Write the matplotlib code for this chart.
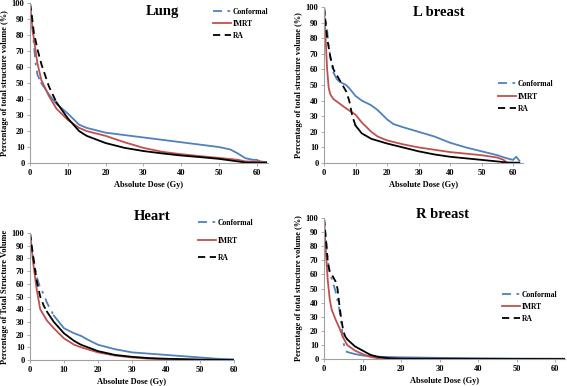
import matplotlib.pyplot as plt
from matplotlib.lines import Line2D

# ---- data (dose in Gy, volume in %) ----
lung_conf_x = [0, 0.5, 1, 1.5, 2, 3, 5, 7, 10, 13, 15, 20, 25, 30, 35, 40, 45, 50, 53, 55, 57, 59, 60, 61, 62.5]
lung_conf_y = [100, 88, 75, 62, 55, 50, 43, 37, 31, 24, 22, 19, 17.5, 16, 14.5, 13, 11.5, 10, 8.5, 6, 3, 2, 2, 1, 0.5]
lung_imrt_x = [0, 0.5, 1, 2, 3, 5, 7, 10, 13, 15, 20, 25, 30, 35, 40, 45, 50, 55, 57, 60, 62.5]
lung_imrt_y = [100, 88, 78, 62, 52, 42, 34, 27, 22, 20, 17, 13, 9.5, 7, 5.5, 4.3, 3.2, 2, 1, 0.8, 0.5]
lung_ra_x = [0, 0.5, 1, 2, 3, 5, 7, 10, 13, 15, 20, 25, 30, 35, 40, 45, 50, 55, 57, 60, 62.5]
lung_ra_y = [100, 92, 82, 71, 62, 48, 38, 28, 20, 17, 12.5, 9.5, 7.5, 6, 4.7, 3.7, 2.6, 1, 0.3, 0.2, 0.2]

lbr_conf_x = [0, 0.5, 1, 1.5, 2, 3, 4, 5, 7, 8, 10, 12, 15, 17, 20, 22, 25, 30, 35, 40, 45, 50, 55, 58, 60, 61, 62]
lbr_conf_y = [100, 92, 85, 75, 68, 58, 54, 52, 50, 48, 43, 40, 37, 34, 28, 25, 23, 20, 17, 13, 10, 7.5, 5, 3, 2, 4, 1.5]
lbr_imrt_x = [0, 0.5, 1, 1.5, 2, 3, 5, 7, 10, 12, 15, 17, 20, 25, 30, 35, 40, 45, 50, 55, 57, 58]
lbr_imrt_y = [100, 80, 60, 48, 44, 41, 38, 35, 31, 26, 20, 17, 14.5, 12, 10, 8.5, 7, 6, 5, 3.5, 2, 0.3]
lbr_ra_x = [0, 1, 2, 3, 5, 7, 8, 9, 10, 12, 15, 20, 25, 30, 35, 40, 45, 50, 55, 58, 62]
lbr_ra_y = [100, 80, 68, 60, 53, 46, 40, 30, 24, 19, 15.5, 12.5, 10, 7.5, 5.5, 4, 3, 2, 1, 0.3, 0.2]

heart_conf_x = [0, 1, 2, 3, 4, 5, 7, 10, 13, 15, 17, 20, 25, 30, 35, 40, 45, 50, 55, 60]
heart_conf_y = [100, 80, 65, 57, 52, 45, 35, 25, 21, 19, 16, 12, 8.5, 6, 5, 4, 3, 2, 1, 0.5]
heart_imrt_x = [0, 1, 2, 3, 5, 7, 10, 13, 15, 20, 25, 30, 35, 40, 50, 60]
heart_imrt_y = [100, 75, 55, 40, 31, 25, 17, 12, 10, 6, 3.5, 2, 1, 0.5, 0.2, 0]
heart_ra_x = [0, 1, 2, 3, 4, 5, 7, 10, 13, 15, 20, 25, 30, 35, 40, 50, 60]
heart_ra_y = [100, 80, 62, 50, 43, 38, 30, 21, 15, 12, 7, 4, 2.5, 1.5, 1, 0.3, 0]

rbr_conf_x = [0, 0.5, 1, 1.5, 2, 3, 4, 4.5, 5, 5.5, 6, 8, 10, 12, 15, 20, 30, 40, 50, 62.5]
rbr_conf_y = [100, 85, 70, 60, 57, 48, 35, 25, 12, 7, 5, 3.5, 2.5, 2, 1.5, 1.2, 0.8, 0.5, 0.3, 0.2]
rbr_imrt_x = [0, 0.5, 1, 1.5, 2, 3, 4, 5, 6, 8, 10, 12, 14, 20, 62.5]
rbr_imrt_y = [100, 75, 55, 42, 35, 28, 22, 15, 10, 6, 3.5, 1.5, 0.5, 0.2, 0]
rbr_ra_x = [0, 0.5, 1, 1.5, 2, 3, 3.5, 4, 4.5, 5, 5.5, 6, 8, 10, 12, 14, 17, 20, 62.5]
rbr_ra_y = [100, 85, 68, 62, 60, 55, 50, 38, 28, 20, 16, 14, 9, 6, 3, 1.5, 0.5, 0.2, 0]

labels = ['Conformal', 'IMRT', 'RA']

BLUE = '#4f81bd'
RED = '#c0504d'
BLACK = '#000000'
FONT = 'Liberation Serif'
LW = 1.3
CONF_DASH = (0, (5, 3, 1.5, 3))
RA_DASH = (0, (4, 2.5))

fig = plt.figure(figsize=(5.67, 3.86), dpi=100)
W, H = 567.0, 386.0


def px_axes(x0, x1, ytop, ybot):
    return fig.add_axes([x0 / W, 1 - ybot / H, (x1 - x0) / W, (ybot - ytop) / H])


def split_plot(ax, x, y, color, dash_style, dash_until):
    # early (sparse) part drawn dashed, the dense rest looks solid
    xd = [a for a in x if a <= dash_until]
    yd = y[:len(xd)]
    ax.plot(xd, yd, color=color, lw=LW, linestyle=dash_style)
    k = max(len(xd) - 1, 0)
    ax.plot(x[k:], y[k:], color=color, lw=LW)


def panel(ax, title, title_xy, data, dash, xmax, ylabel, leg_xy, leg_space):
    (cx, cy), (ix, iy), (rx, ry) = data
    split_plot(ax, cx, cy, BLUE, CONF_DASH, dash[0])
    ax.plot(ix, iy, color=RED, lw=LW)
    split_plot(ax, rx, ry, BLACK, RA_DASH, dash[1])
    ax.set_xlim(0, xmax)
    ax.set_ylim(0, 100)
    ax.set_xticks(range(0, 61, 10))
    ax.set_yticks(range(0, 101, 10))
    for s in ['top', 'right']:
        ax.spines[s].set_visible(False)
    for s in ['left', 'bottom']:
        ax.spines[s].set_color('#a0a0a0')
        ax.spines[s].set_linewidth(0.8)
    ax.tick_params(length=2, width=0.6, color='#a0a0a0', labelsize=6, pad=2)
    for t in ax.get_xticklabels() + ax.get_yticklabels():
        t.set_fontfamily(FONT)
        t.set_fontweight('bold')
    ax.set_xlabel('Absolute Dose (Gy)', fontsize=6, fontweight='bold', family=FONT, labelpad=3)
    ax.set_ylabel(ylabel, fontsize=6, fontweight='bold', family=FONT, labelpad=2)
    fig.text(title_xy[0] / W, 1 - title_xy[1] / H, title, fontsize=10.5, fontweight='bold',
             family=FONT, ha='center', va='center')
    handles = [Line2D([], [], color=BLUE, lw=LW, linestyle=CONF_DASH),
               Line2D([], [], color=RED, lw=LW),
               Line2D([], [], color=BLACK, lw=LW, linestyle=RA_DASH)]
    fig.legend(handles, labels, loc='upper left', bbox_to_anchor=(leg_xy[0] / W, 1 - leg_xy[1] / H),
               frameon=False, handlelength=2.4, handletextpad=0.2, labelspacing=leg_space,
               prop={'family': FONT, 'weight': 'bold', 'size': 5.5}, borderpad=0, borderaxespad=0)


ylab = 'Percentage of total structure volume (%)'

ax1 = px_axes(30, 268, 3.3, 163)
panel(ax1, 'Lung', (162, 12),
      [(lung_conf_x, lung_conf_y), (lung_imrt_x, lung_imrt_y), (lung_ra_x, lung_ra_y)],
      (3, 8), 63, ylab, (213, 8), 0.5)

ax2 = px_axes(324, 522.5, 7, 163)
panel(ax2, 'L breast', (439, 13),
      [(lbr_conf_x, lbr_conf_y), (lbr_imrt_x, lbr_imrt_y), (lbr_ra_x, lbr_ra_y)],
      (3, 10), 63, ylab, (498, 80), 0.6)

ax3 = px_axes(30, 234, 233, 360)
panel(ax3, 'Heart', (152, 216),
      [(heart_conf_x, heart_conf_y), (heart_imrt_x, heart_imrt_y), (heart_ra_x, heart_ra_y)],
      (7, 5), 60, 'Percentage of Total Structure Volume', (198, 219), 1.25)

ax4 = px_axes(324, 565, 218, 359)
panel(ax4, 'R breast', (443, 214),
      [(rbr_conf_x, rbr_conf_y), (rbr_imrt_x, rbr_imrt_y), (rbr_ra_x, rbr_ra_y)],
      (7, 6), 62.5, ylab, (502, 291), 0.5)

fig.savefig('out.png', dpi=100)
